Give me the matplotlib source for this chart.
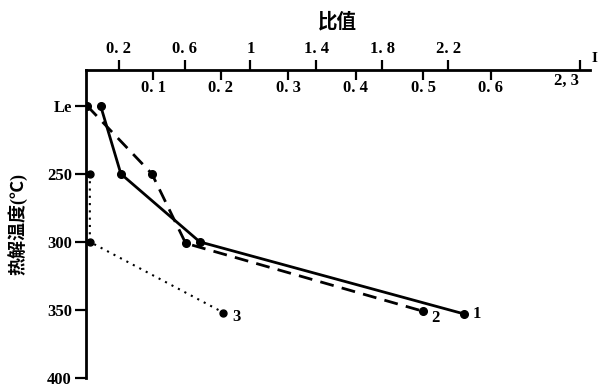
import matplotlib.pyplot as plt
import numpy as np

plt.rcParams['font.family'] = ['Liberation Serif', 'Noto Sans CJK SC', 'DejaVu Sans']
plt.rcParams['font.weight'] = 'bold'

# pyrolysis temperature (C) and ratio values (lower scale)
temp1 = [200, 250, 300, 353]
ratio1 = [0.022, 0.052, 0.169, 0.561]
temp2 = [200, 250, 301, 351]
ratio2 = [0.002, 0.098, 0.148, 0.500]
temp3 = [250, 300, 352]
ratio3 = [0.006, 0.006, 0.204]

lower_ticks = [0.1, 0.2, 0.3, 0.4, 0.5, 0.6]
lower_labels = ['0. 1', '0. 2', '0. 3', '0. 4', '0. 5', '0. 6']
upper_ticks = [0.2, 0.6, 1.0, 1.4, 1.8, 2.2, 3.0]
upper_labels = ['0. 2', '0. 6', '1', '1. 4', '1. 8', '2. 2', '']
y_ticks = [200, 250, 300, 350, 400]
y_labels = ['Le', '250', '300', '350', '400']

k = 676 / 165.0  # upper / lower scale ratio

fig = plt.figure(figsize=(6, 3.88), dpi=100)
ax = fig.add_axes([0.143, 0.026, 0.84, 0.794])

ax.plot(ratio1, temp1, 'k-', lw=2.0, marker='o', ms=5.5)
ax.plot(ratio2, temp2, 'k', lw=2.0, ls=(0, (5, 3)), marker='o', ms=5.5)
ax.plot(ratio3, temp3, 'k', lw=1.5, ls=(0, (1, 2.5)), marker='o', ms=5)

ax.text(ratio1[-1] + 0.012, temp1[-1], '1', fontsize=12, va='center')
ax.text(ratio2[-1] + 0.012, temp2[-1] + 5, '2', fontsize=12, va='center')
ax.text(ratio3[-1] + 0.013, temp3[-1] + 3, '3', fontsize=12, va='center')

ax.set_xlim(0, 0.747)
ax.set_ylim(400, 173.5)

for s in ['right', 'bottom']:
    ax.spines[s].set_visible(False)
ax.spines['top'].set_linewidth(2)
ax.spines['left'].set_linewidth(2)
ax.spines['left'].set_bounds(400, 173.5)

ax.xaxis.tick_top()
ax.set_xticks(lower_ticks)
ax.set_xticklabels(lower_labels)
ax.tick_params(axis='x', direction='in', length=7, width=1.6, pad=-19, labelsize=12)
ax.text(0.713, 176, '2, 3', fontsize=12, ha='center', va='top')

ax.set_yticks(y_ticks)
ax.set_yticklabels(y_labels)
ax.tick_params(axis='y', direction='out', length=8, width=1.6, labelsize=12, pad=2)
ax.set_ylabel('热解温度(℃)', fontsize=13, fontweight='bold', labelpad=14)

sec = ax.secondary_xaxis('top', functions=(lambda x: x * k, lambda x: x / k))
sec.set_xticks(upper_ticks)
sec.set_xticklabels(upper_labels)
sec.tick_params(direction='out', length=7, width=1.6, labelsize=12, pad=2)
sec.spines['top'].set_visible(False)
sec.set_xlabel('比值', fontsize=14, fontweight='bold', labelpad=10)

fig.text(0.986, 0.84, 'I', fontsize=11)

fig.savefig('out.png', dpi=100)
